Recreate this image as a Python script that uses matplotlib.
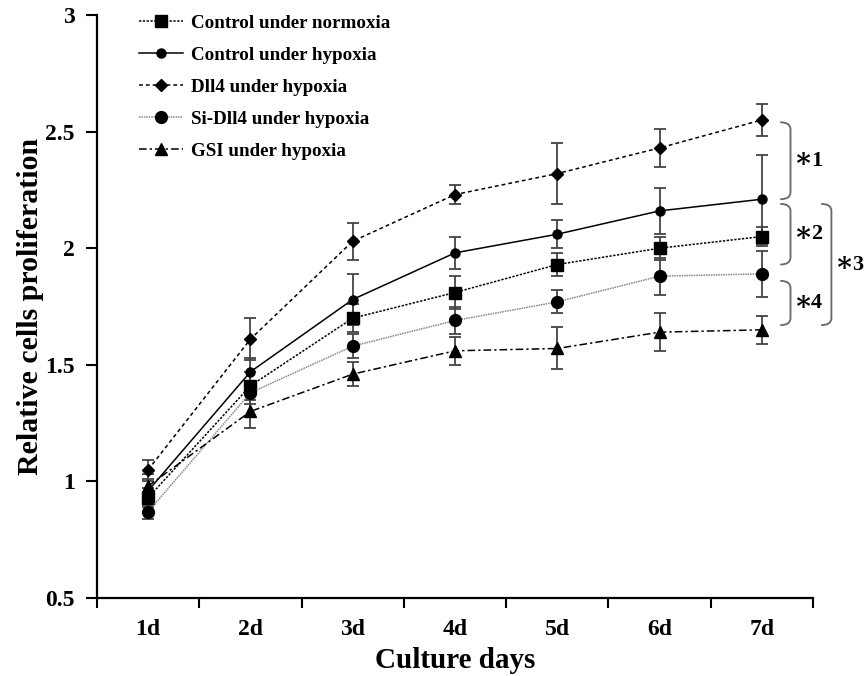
import numpy as np
from matplotlib import pyplot as plt
from matplotlib.path import Path
from matplotlib.patches import PathPatch

days = ['1d', '2d', '3d', '4d', '5d', '6d', '7d']

normoxia = [0.93, 1.41, 1.70, 1.81, 1.93, 2.00, 2.05]
normoxia_err = [0.04, 0.06, 0.06, 0.07, 0.05, 0.05, 0.04]
hypoxia = [0.96, 1.47, 1.78, 1.98, 2.06, 2.16, 2.21]
hypoxia_err = [0.04, 0.06, 0.11, 0.07, 0.06, 0.10, 0.19]
dll4 = [1.05, 1.61, 2.03, 2.23, 2.32, 2.43, 2.55]
dll4_err = [0.04, 0.09, 0.08, 0.04, 0.13, 0.08, 0.07]
sidll4 = [0.87, 1.38, 1.58, 1.69, 1.77, 1.88, 1.89]
sidll4_err = [0.03, 0.05, 0.05, 0.06, 0.05, 0.08, 0.10]
gsi = [0.98, 1.30, 1.46, 1.56, 1.57, 1.64, 1.65]
gsi_err = [0.05, 0.07, 0.05, 0.06, 0.09, 0.08, 0.06]

# significance brackets: (top, bottom, label, column)
brackets = [(2.54, 2.21, '1', 0), (2.19, 1.93, '2', 0),
            (1.86, 1.67, '4', 0), (2.19, 1.67, '3', 1)]

plt.rcParams['font.family'] = ['Liberation Serif', 'DejaVu Serif']
plt.rcParams['font.weight'] = 'bold'

fig = plt.figure(figsize=(8.64, 6.76), dpi=100)
ax = fig.add_axes([97 / 864, 78 / 676, 716 / 864, 583 / 676])

x = np.arange(len(days))
series = [
    (normoxia, normoxia_err, 'Control under normoxia', 's', 8, (0, (1.5, 1)), 'black'),
    (hypoxia, hypoxia_err, 'Control under hypoxia', 'o', 6.5, '-', 'black'),
    (dll4, dll4_err, 'Dll4 under hypoxia', 'D', 6.5, (0, (2.5, 2)), 'black'),
    (sidll4, sidll4_err, 'Si-Dll4 under hypoxia', 'o', 8.5, (0, (1, 0.6)), '#888888'),
    (gsi, gsi_err, 'GSI under hypoxia', '^', 9, (0, (5, 2, 1.5, 2)), 'black'),
]
for vals, errs, label, mk, ms, ls, col in series:
    ax.errorbar(x, vals, yerr=errs, fmt='none', ecolor='#444444', elinewidth=1.3,
                capsize=4, capthick=1.3, zorder=2)
    ax.plot(x, vals, linestyle=ls, color=col, linewidth=1.1, marker=mk, ms=ms,
            mfc='black', mec='black', label=label, zorder=3)

ax.set_xlim(-0.5, 6.5)
ax.set_ylim(0.5, 3)
ax.set_xticks(np.arange(-0.5, 7, 1))
ax.set_xticklabels([])
ax.set_xticks(x, minor=True)
ax.set_xticklabels(days, minor=True, fontsize=17, fontweight='bold')
ax.tick_params(axis='x', which='minor', length=0, pad=15)
ax.tick_params(axis='x', which='major', direction='out', length=7, width=1.5)
ax.set_yticks([0.5, 1, 1.5, 2, 2.5, 3])
ax.set_yticklabels(['0.5', '1', '1.5', '2', '2.5', '3'], fontsize=17, fontweight='bold')
ax.tick_params(axis='y', direction='out', length=8, width=1.5, pad=8)
for side in ['top', 'right']:
    ax.spines[side].set_visible(False)
for side in ['left', 'bottom']:
    ax.spines[side].set_linewidth(1.6)

ax.set_xlabel('Culture days', fontsize=21, fontweight='bold', labelpad=5)
ax.set_ylabel('Relative cells proliferation', fontsize=21.5, fontweight='bold', labelpad=1)

leg = ax.legend(loc='upper left', bbox_to_anchor=(0.035, 1.03), frameon=False,
                prop={'size': 13.7, 'weight': 'bold'}, handlelength=2.3,
                labelspacing=0.77, handletextpad=0.4)

# curly-ish brackets on the right
for top, bot, num, col in brackets:
    x0 = 6.18 + col * 0.4
    w = 0.1
    r = 0.03
    verts = [(x0, top), (x0 + w, top), (x0 + w, top - r),
             (x0 + w, bot + r), (x0 + w, bot), (x0, bot)]
    codes = [Path.MOVETO, Path.CURVE3, Path.CURVE3,
             Path.LINETO, Path.CURVE3, Path.CURVE3]
    ax.add_patch(PathPatch(Path(verts, codes), fill=False, edgecolor='#666666',
                           lw=1.3, clip_on=False))
    mid = (top + bot) / 2
    ax.text(x0 + w + 0.03, mid, '\u2217', fontsize=20, fontweight='bold',
            va='center', ha='left', clip_on=False)
    ax.text(x0 + w + 0.2, mid, num, fontsize=16, fontweight='bold',
            va='center', ha='left', clip_on=False)

fig.savefig('out.png', dpi=100)
